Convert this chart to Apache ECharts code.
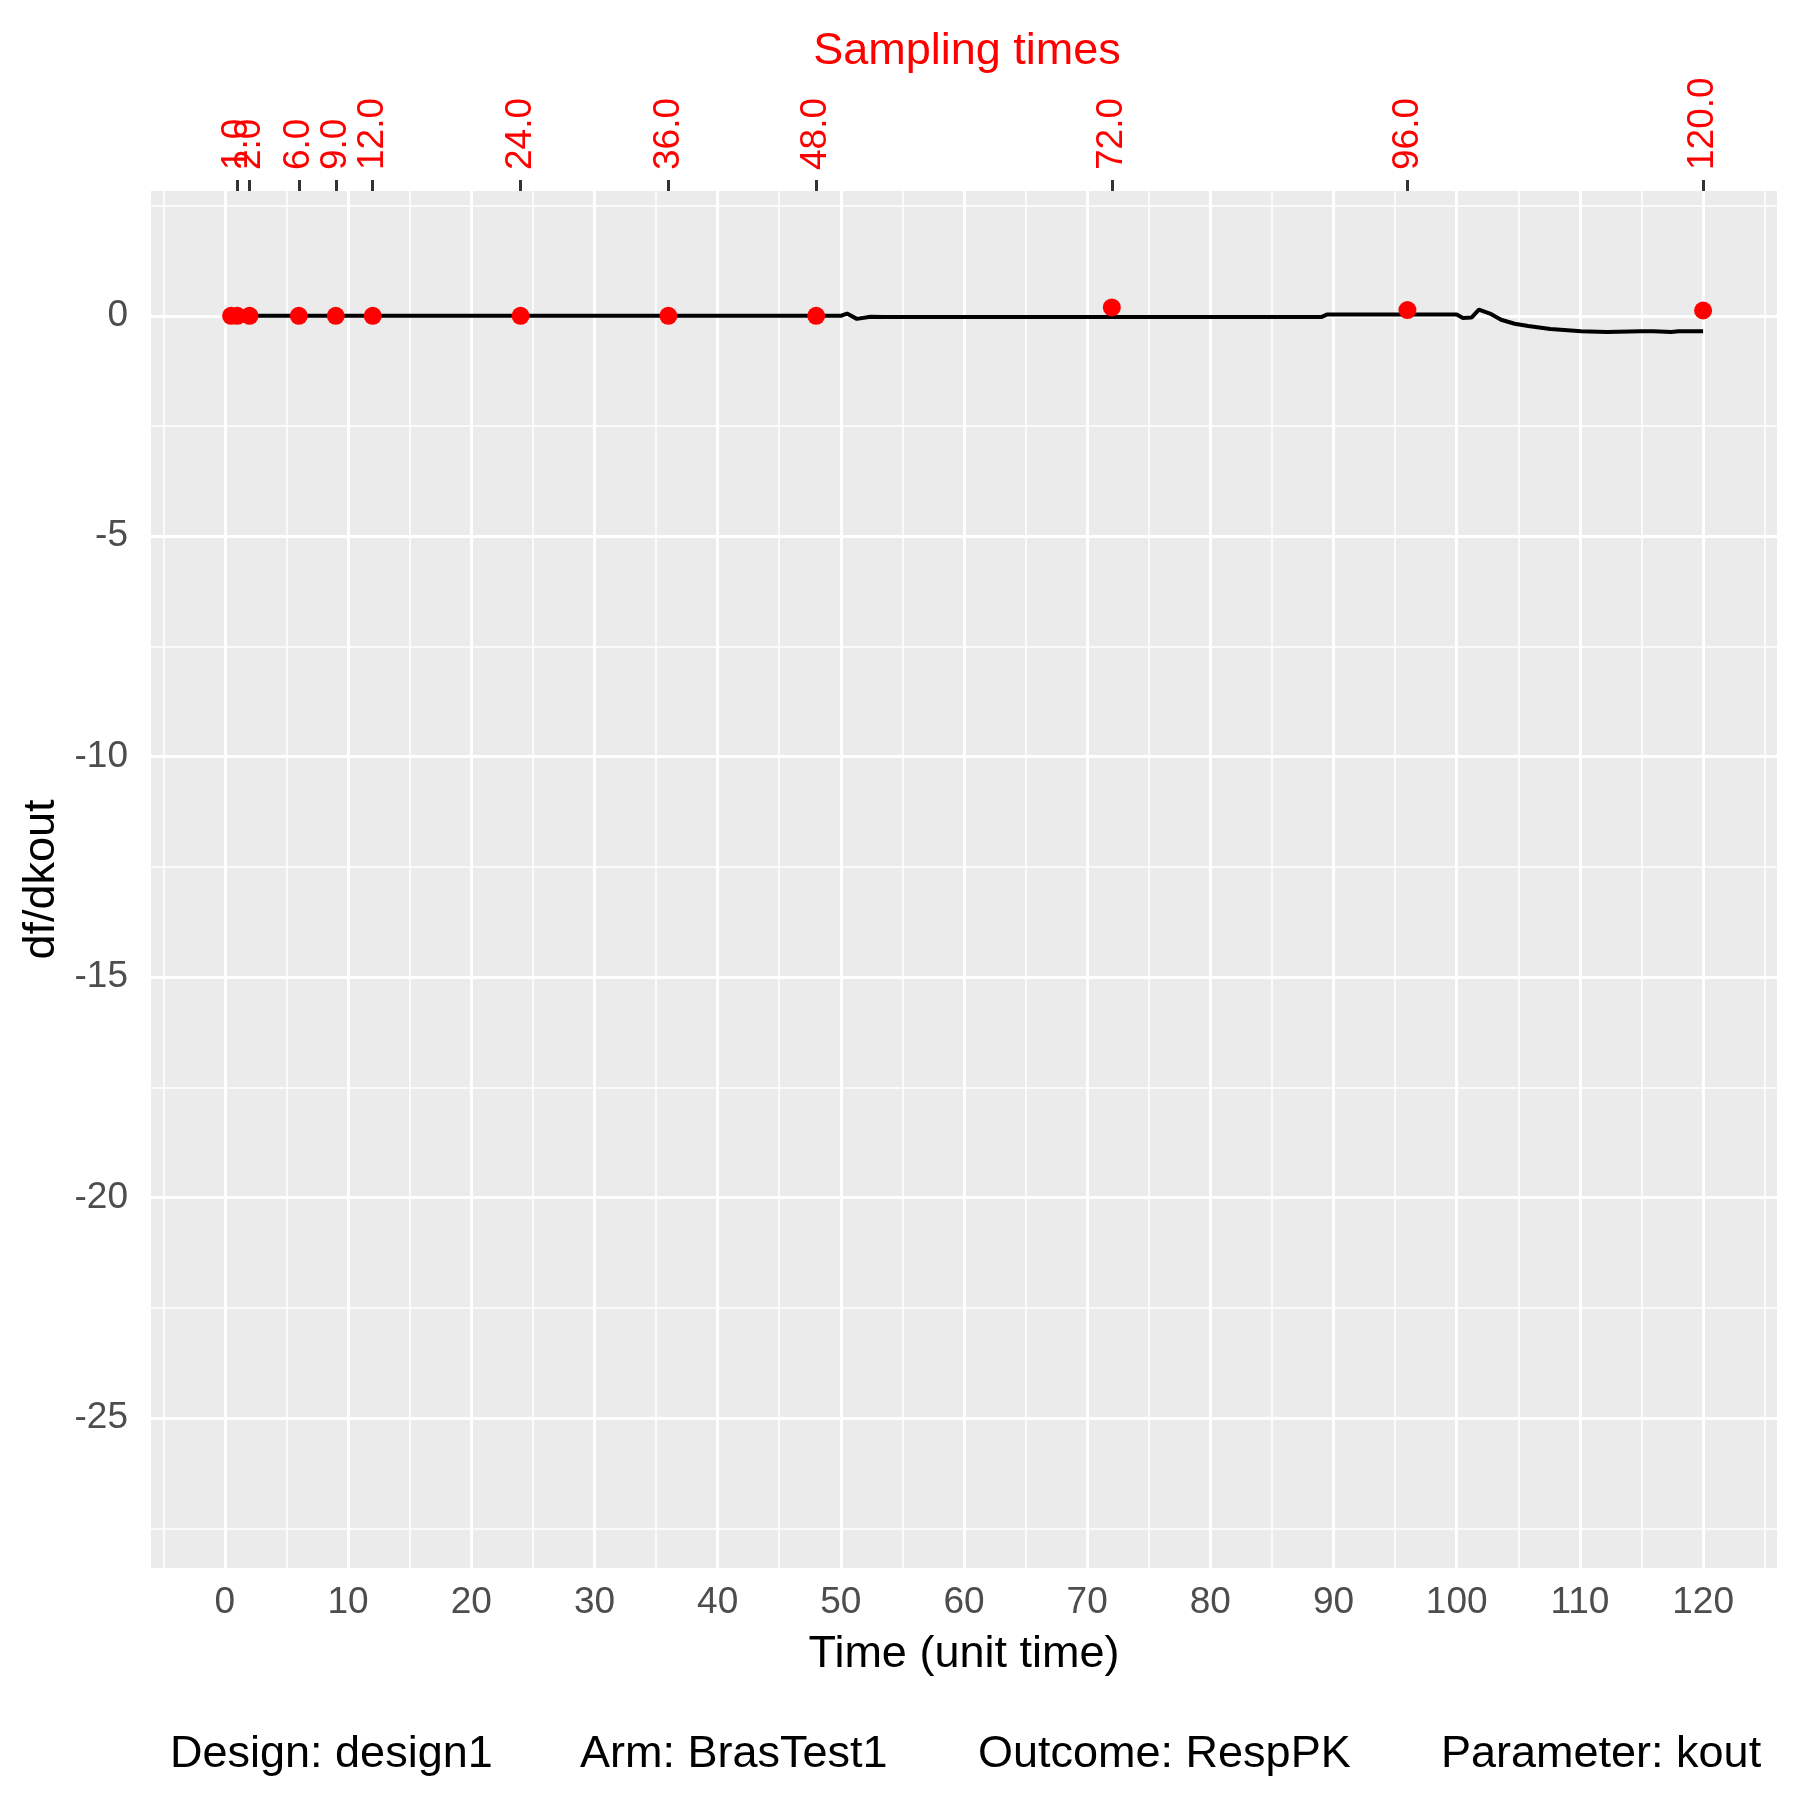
<!DOCTYPE html>
<html>
<head>
<meta charset="utf-8">
<script src="https://cdn.jsdelivr.net/npm/echarts@6/dist/echarts.min.js"></script>
<style>
  html, body { margin: 0; padding: 0; background: #ffffff; }
  #chart { width: 1800px; height: 1800px; }
</style>
</head>
<body>
<div id="chart"></div>
<script>
// sampling times (top axis) and the df/dkout value at each of them
var samplingTimes = [0.5, 1, 2, 6, 9, 12, 24, 36, 48, 72, 96, 120];
var samplingValues = [0, 0, 0, 0, 0, 0, 0, 0, 0, 0.19, 0.13, 0.12];

// sensitivity curve
var curveTime = [0, 50, 50.5, 51.3, 52.4, 53.5, 89, 89.5, 100, 100.5, 101.2, 101.8, 102.7,
    103.6, 104.7, 105.8, 107.6, 110.1, 112.2, 114.9, 116, 117.4, 118, 120];
var curveValue = [0, 0, 0.05, -0.07, -0.02, -0.03, -0.03, 0.03, 0.03, -0.05, -0.04, 0.14, 0.05,
    -0.09, -0.18, -0.23, -0.30, -0.35, -0.37, -0.35, -0.35, -0.37, -0.35, -0.35];

// tick labels
var xTicks = [0, 10, 20, 30, 40, 50, 60, 70, 80, 90, 100, 110, 120];
var xMinor = [-5, 5, 15, 25, 35, 45, 55, 65, 75, 85, 95, 105, 115, 125];
var yTicks = [-25, -20, -15, -10, -5, 0];
var yMinor = [-27.5, -22.5, -17.5, -12.5, -7.5, -2.5, 2.5];

var captionItems = ['Design: design1', 'Arm: BrasTest1', 'Outcome: RespPK', 'Parameter: kout'];
var captionLeft = [170, 580, 978, 1441];

var font = 'Liberation Sans, Arial, sans-serif';

var curveData = curveTime.map(function (t, i) { return [t, curveValue[i]]; });
var pointData = samplingTimes.map(function (t, i) { return [t, samplingValues[i]]; });

var gridLines = [];
xTicks.forEach(function (v) { gridLines.push({ xAxis: v, lineStyle: { width: 3 } }); });
xMinor.forEach(function (v) { gridLines.push({ xAxis: v, lineStyle: { width: 1.5 } }); });
yTicks.forEach(function (v) { gridLines.push({ yAxis: v, lineStyle: { width: 3 } }); });
yMinor.forEach(function (v) { gridLines.push({ yAxis: v, lineStyle: { width: 1.5 } }); });

var chart = echarts.init(document.getElementById('chart'), null, { renderer: 'canvas' });

chart.setOption({
    animation: false,
    backgroundColor: '#ffffff',
    textStyle: { fontFamily: font },
    title: {
        text: 'Sampling times',
        left: 962,
        top: 24,
        textAlign: 'center',
        textStyle: { color: '#FF0000', fontSize: 45, fontWeight: 'normal', fontFamily: font }
    },
    grid: {
        left: 151,
        right: 23,
        top: 191,
        bottom: 232,
        show: true,
        backgroundColor: '#EBEBEB',
        borderWidth: 0
    },
    xAxis: [{
        type: 'value',
        position: 'bottom',
        min: -6,
        max: 126,
        name: 'Time (unit time)',
        nameLocation: 'middle',
        nameGap: 64,
        nameTextStyle: { color: '#000000', fontSize: 45, fontFamily: font },
        axisLine: { show: false },
        axisTick: { show: true, length: 11, customValues: xTicks, lineStyle: { color: '#333333', width: 3 } },
        axisLabel: { customValues: xTicks, margin: 16, color: '#4D4D4D', fontSize: 37, fontFamily: font },
        splitLine: { show: false }
    }, {
        type: 'value',
        position: 'top',
        min: -6,
        max: 126,
        axisLine: { show: false },
        axisTick: { show: true, length: 11, customValues: samplingTimes, lineStyle: { color: '#333333', width: 3 } },
        axisLabel: {
            customValues: samplingTimes,
            rotate: -90,
            margin: 21,
            color: '#FF0000',
            fontSize: 37,
            fontFamily: font,
            formatter: function (v) { return v.toFixed(1); }
        },
        splitLine: { show: false }
    }],
    yAxis: {
        type: 'value',
        min: -28.4,
        max: 2.83,
        name: 'df/dkout',
        nameLocation: 'middle',
        nameGap: 86,
        nameRotate: 90,
        nameTextStyle: { color: '#000000', fontSize: 45, fontFamily: font },
        axisLine: { show: false },
        axisTick: { show: true, length: 11, customValues: yTicks, lineStyle: { color: '#333333', width: 3 } },
        axisLabel: { customValues: yTicks, margin: 23, color: '#4D4D4D', fontSize: 37, fontFamily: font },
        splitLine: { show: false }
    },
    series: [{
        // white panel grid
        type: 'line',
        z: 1,
        data: [],
        silent: true,
        markLine: {
            z: 1,
            silent: true,
            symbol: 'none',
            label: { show: false },
            lineStyle: { color: '#FFFFFF', type: 'solid' },
            emphasis: { disabled: true },
            data: gridLines
        }
    }, {
        name: 'df/dkout',
        type: 'line',
        z: 6,
        data: curveData,
        showSymbol: false,
        smooth: false,
        lineStyle: { color: '#000000', width: 4 }
    }, {
        name: 'Sampling times',
        type: 'scatter',
        z: 7,
        data: pointData,
        symbolSize: 18,
        itemStyle: { color: '#FF0000', opacity: 1 }
    }],
    graphic: captionItems.map(function (s, i) {
        return {
            type: 'text',
            left: captionLeft[i],
            top: 1732,
            style: { text: s, fill: '#000000', font: '45px ' + font }
        };
    })
});
</script>
</body>
</html>
